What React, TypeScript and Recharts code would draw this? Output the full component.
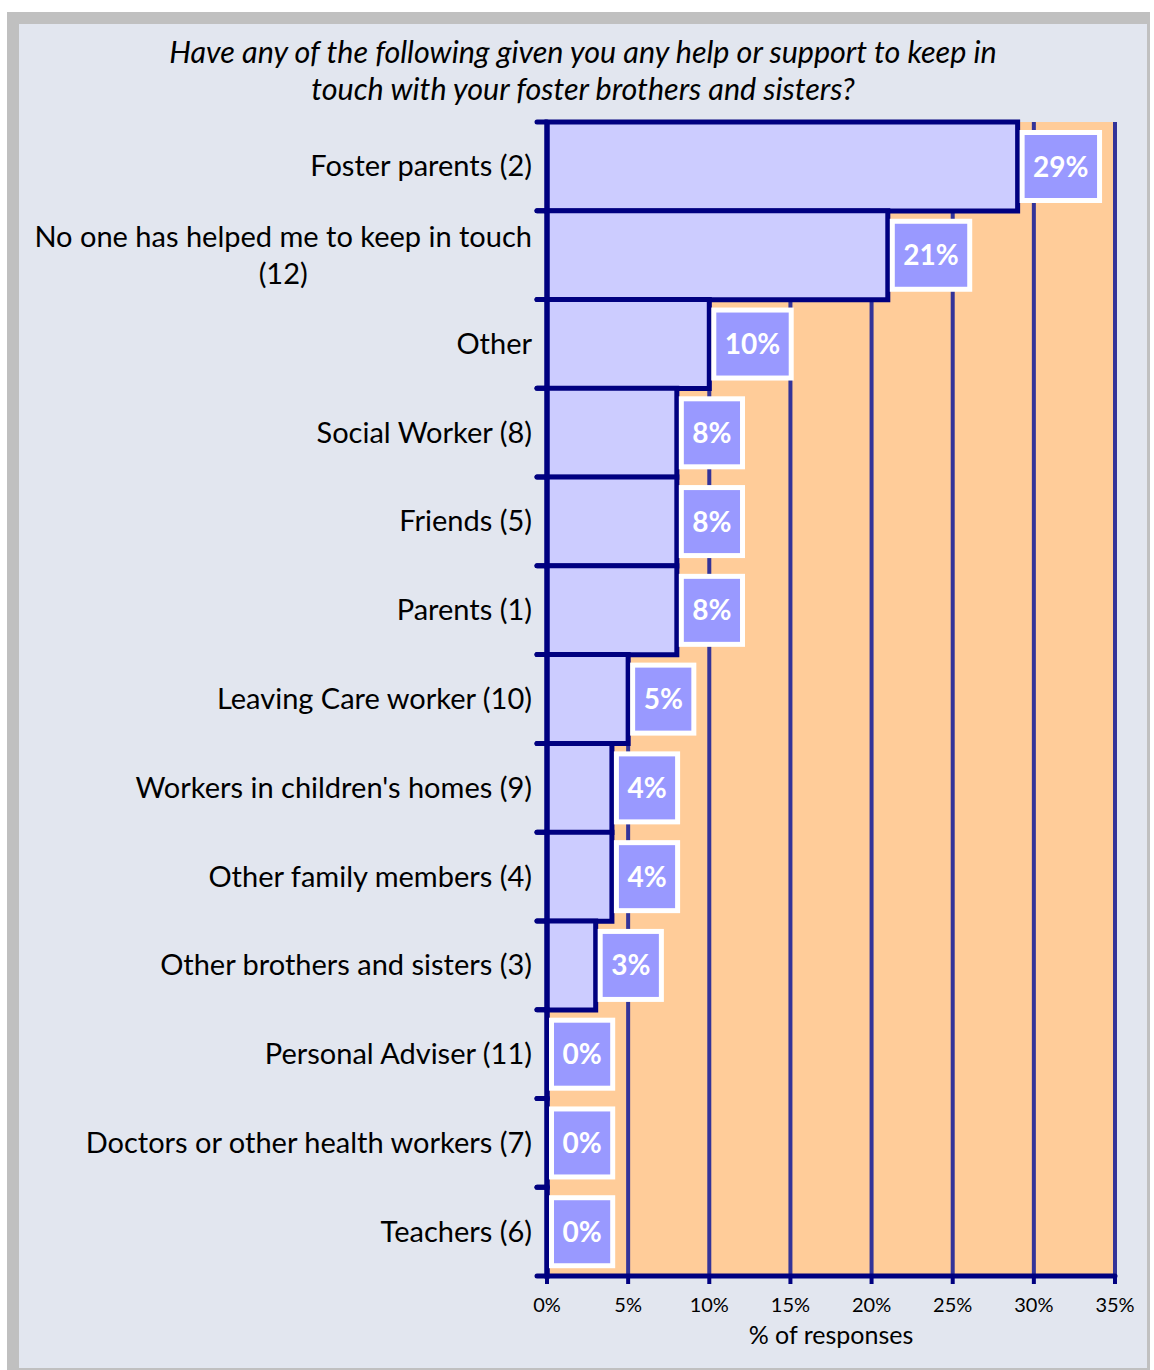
import React from 'react';
import { BarChart, Bar, XAxis, YAxis, CartesianGrid, LabelList } from 'recharts';

const categories = [
  'Foster parents (2)',
  'No one has helped me to keep in touch (12)',
  'Other',
  'Social Worker (8)',
  'Friends (5)',
  'Parents (1)',
  'Leaving Care worker (10)',
  "Workers in children's homes (9)",
  'Other family members (4)',
  'Other brothers and sisters (3)',
  'Personal Adviser (11)',
  'Doctors or other health workers (7)',
  'Teachers (6)',
];
const responses = [29, 21, 10, 8, 8, 8, 5, 4, 4, 3, 0, 0, 0];
const xTicks = [0, 5, 10, 15, 20, 25, 30, 35];

const titleLines = [
  'Have any of the following given you any help or support to keep in',
  'touch with your foster brothers and sisters?',
];

const W = 1154;
const H = 1370;
const margin = { top: 122, right: 39, bottom: 0, left: 27 };
const X_AXIS_H = 94;
const band = (H - margin.top - margin.bottom - X_AXIS_H) / categories.length;

const NAVY = '#000080';
const GRID = '#333399';
const FONT = 'Lato, "DejaVu Sans", sans-serif';
const CAT_SIZE = 29;

const data = categories.map((name, i) => ({ name, value: responses[i] }));

let ctx: CanvasRenderingContext2D | null = null;
const measure = (s: string, font: string) => {
  if (!ctx) ctx = document.createElement('canvas').getContext('2d');
  if (!ctx) return s.length * 14;
  ctx.font = font;
  return ctx.measureText(s).width;
};

// wrap long category names the way the original does
const wrap = (s: string, max = 37) => {
  const words = s.split(' ');
  const lines: string[] = [];
  let cur = '';
  words.forEach((w) => {
    const next = cur ? cur + ' ' + w : w;
    if (next.length > max && cur) {
      lines.push(cur);
      cur = w;
    } else cur = next;
  });
  if (cur) lines.push(cur);
  return lines;
};

const YTick = (props: any) => {
  const { x, y, payload } = props;
  const lines = wrap(payload.value);
  const axisX = x + 15;
  const ticks = (
    <g>
      <line x1={axisX - 10} x2={axisX} y1={y - band / 2} y2={y - band / 2} stroke={NAVY} strokeWidth={5} strokeLinecap="round" />
      <line x1={axisX - 10} x2={axisX} y1={y + band / 2} y2={y + band / 2} stroke={NAVY} strokeWidth={5} strokeLinecap="round" />
    </g>
  );
  if (lines.length === 1) {
    return (
      <g>
        {ticks}
        <text x={x} y={y} dy={10} textAnchor="end" fontSize={CAT_SIZE} fill="#000" fontFamily={FONT}>
          {payload.value}
        </text>
      </g>
    );
  }
  const w = measure(lines[0], `${CAT_SIZE}px Lato`);
  const cx = x - w / 2;
  return (
    <g>
      {ticks}
      {lines.map((l, i) => (
        <text
          key={i}
          x={i === 0 ? x : cx}
          y={y + (i - (lines.length - 1) / 2) * 37}
          dy={10}
          textAnchor={i === 0 ? 'end' : 'middle'}
          fontSize={CAT_SIZE}
          fill="#000"
          fontFamily={FONT}
        >
          {l}
        </text>
      ))}
    </g>
  );
};

const ValueBox = (props: any) => {
  const { x, y, width, height, value } = props;
  const txt = `${Math.round(value)}%`;
  const tw = measure(txt, `bold 28px Lato`);
  const bw = tw + 22;
  const bh = 68;
  const bx = x + Math.max(width, 0) + 4.5;
  const cy = y + height / 2;
  return (
    <g>
      <rect x={bx} y={cy - bh / 2} width={bw} height={bh} fill="#9999ff" stroke="#fff" strokeWidth={5} />
      <text
        x={bx + bw / 2}
        y={cy}
        dy={10}
        textAnchor="middle"
        fontSize={28}
        fontWeight="bold"
        fill="#fff"
        fontFamily={FONT}
      >
        {txt}
      </text>
    </g>
  );
};

export default function App() {
  return (
    <div style={{ position: 'absolute', left: 0, top: 0, width: W, height: H, background: '#fff', fontFamily: FONT }}>
      <div style={{ position: 'absolute', left: 7, top: 12, width: 1143, height: 1358, background: '#c0c0c0' }} />
      <div style={{ position: 'absolute', left: 19, top: 24, width: 1128, height: 1344, background: '#e2e6ef' }} />
      <div style={{ position: 'absolute', left: 0, top: 0 }}>
        <BarChart width={W} height={H} data={data} layout="vertical" margin={margin} barCategoryGap={0}>
          <CartesianGrid
            horizontal={false}
            stroke={GRID}
            strokeWidth={4}
            fill="#ffcc99"
            fillOpacity={1}
          />
          <XAxis
            type="number"
            domain={[0, 35]}
            ticks={xTicks}
            height={X_AXIS_H}
            tickFormatter={(v) => `${v}%`}
            axisLine={{ stroke: NAVY, strokeWidth: 5, strokeLinecap: 'round' }}
            tickLine={{ stroke: NAVY, strokeWidth: 4 }}
            tickSize={8}
            tickMargin={14}
            tick={{ fill: '#000', fontSize: 20, fontFamily: FONT }}
            label={{ value: '% of responses', position: 'insideBottom', offset: 26, fill: '#000', fontSize: 25, fontFamily: FONT }}
          />
          <YAxis
            type="category"
            dataKey="name"
            width={520}
            axisLine={{ stroke: NAVY, strokeWidth: 5 }}
            tickLine={false}
            tickSize={0}
            tickMargin={15}
            interval={0}
            tick={<YTick />}
          />
          <Bar
            dataKey="value"
            fill="#ccccff"
            stroke={NAVY}
            strokeWidth={5}
            minPointSize={0.01}
            isAnimationActive={false}
          >
            <LabelList dataKey="value" content={<ValueBox />} />
          </Bar>
        </BarChart>
      </div>
      <div
        style={{
          position: 'absolute',
          left: 19,
          top: 33,
          width: 1128,
          textAlign: 'center',
          fontStyle: 'italic',
          fontSize: 30.5,
          lineHeight: '37px',
          color: '#000',
        }}
      >
        {titleLines.map((l, i) => (
          <div key={i}>{l}</div>
        ))}
      </div>
    </div>
  );
}
